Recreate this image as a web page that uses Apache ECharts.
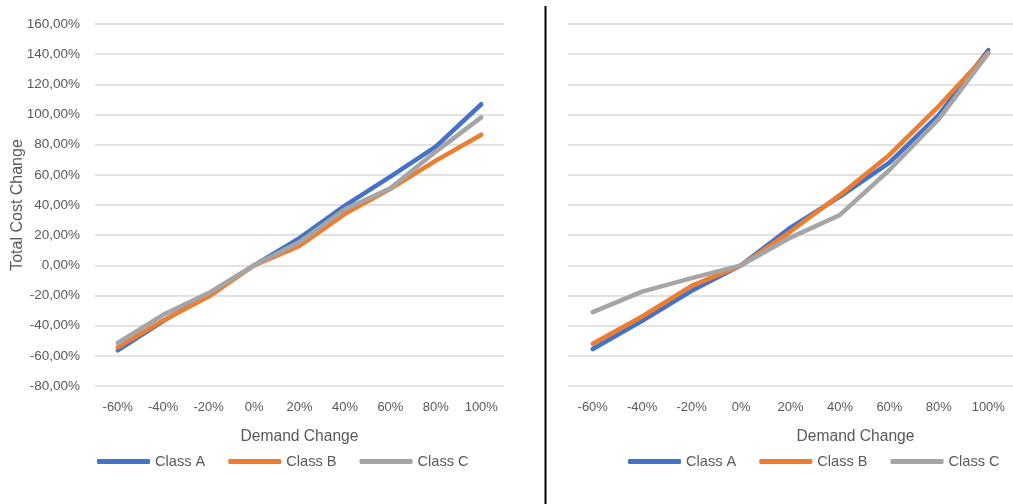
<!DOCTYPE html>
<html>
<head>
<meta charset="utf-8">
<script src="https://cdn.jsdelivr.net/npm/echarts@6/dist/echarts.min.js"></script>
<style>
  html, body { margin: 0; padding: 0; background: #fff; }
  #chart { width: 1013px; height: 504px; }
</style>
</head>
<body>
<div id="chart"></div>
<script>
// Demand change scenarios (x categories)
const categories = ['-60%', '-40%', '-20%', '0%', '20%', '40%', '60%', '80%', '100%'];

// Total cost change (%) – left panel
const leftClassA = [-56.4, -37.0, -19.0, 0, 18.0, 39.6, 58.8, 78.7, 106.8];
const leftClassB = [-54.4, -36.5, -20.7, 0, 12.9, 34.1, 50.7, 69.4, 86.6];
const leftClassC = [-51.5, -32.8, -18.4, 0, 15.4, 37.2, 51.1, 75.4, 98.1];

// Total cost change (%) – right panel
const rightClassA = [-55.5, -36.8, -16.9, 0, 25.0, 45.6, 68.1, 99.7, 142.7];
const rightClassB = [-52.0, -33.9, -13.6, 0, 22.4, 46.7, 73.2, 105.6, 140.9];
const rightClassC = [-31.0, -17.4, -8.5, 0, 18.4, 33.4, 63.2, 97.0, 140.5];

const seriesNames = ['Class A', 'Class B', 'Class C'];
const colors = ['#4472C4', '#ED7D31', '#A5A5A5'];

const FONT = '"Liberation Sans", "DejaVu Sans", sans-serif';
const TEXT = '#595959';

function pct(v) {
  return v.toFixed(2).replace('.', ',') + '%';
}

function xAxis(gridIndex, namePadLeft) {
  return {
    type: 'category', gridIndex, data: categories,
    axisLine: { show: false }, axisTick: { show: false },
    axisLabel: { color: TEXT, fontSize: 13, fontFamily: FONT, margin: 15 },
    name: 'Demand Change', nameLocation: 'middle', nameGap: 43,
    nameTextStyle: { color: TEXT, fontSize: 15.6, fontFamily: FONT, padding: [0, 0, 0, namePadLeft] }
  };
}

function yAxis(gridIndex, showLabels) {
  const ax = {
    type: 'value', gridIndex, min: -80, max: 160, interval: 20,
    axisLine: { show: false }, axisTick: { show: false },
    axisLabel: { show: showLabels, color: TEXT, fontSize: 13.5, fontFamily: FONT, margin: 15, formatter: pct },
    splitLine: { lineStyle: { color: '#D9D9D9', width: 1.5 } }
  };
  if (showLabels) {
    ax.name = 'Total Cost Change';
    ax.nameLocation = 'middle';
    ax.nameGap = 77;
    ax.nameMoveOverlap = false;
    ax.nameTextStyle = { color: TEXT, fontSize: 16, fontFamily: FONT, verticalAlign: 'middle' };
  }
  return ax;
}

function lineSeries(name, data, idx, axisIdx) {
  return {
    name, type: 'line', data, xAxisIndex: axisIdx, yAxisIndex: axisIdx,
    showSymbol: false, symbol: 'none', animation: false,
    lineStyle: { color: colors[idx], width: 4.5, cap: 'round', join: 'round' },
    itemStyle: { color: colors[idx] }
  };
}

function legend(left) {
  return {
    left, top: 454, padding: 0, data: seriesNames,
    icon: 'roundRect', itemWidth: 53, itemHeight: 5, itemGap: 23,
    textStyle: { color: TEXT, fontSize: 14.6, fontFamily: FONT }
  };
}

const chart = echarts.init(document.getElementById('chart'), null, { renderer: 'canvas' });
chart.setOption({
  animation: false,
  backgroundColor: '#fff',
  color: colors,
  grid: [
    { left: 95, right: 509, top: 24, bottom: 118 },
    { left: 568, right: 0, top: 24, bottom: 118 }
  ],
  xAxis: [xAxis(0, 0), xAxis(1, 130)],
  yAxis: [yAxis(0, true), yAxis(1, false)],
  legend: [legend(97), legend(628)],
  series: [
    lineSeries('Class A', leftClassA, 0, 0),
    lineSeries('Class B', leftClassB, 1, 0),
    lineSeries('Class C', leftClassC, 2, 0),
    lineSeries('Class A', rightClassA, 0, 1),
    lineSeries('Class B', rightClassB, 1, 1),
    lineSeries('Class C', rightClassC, 2, 1)
  ],
  graphic: [{
    type: 'line', silent: true,
    shape: { x1: 545.5, y1: 6, x2: 545.5, y2: 504 },
    style: { stroke: '#000', lineWidth: 2 }
  }]
});
</script>
</body>
</html>
